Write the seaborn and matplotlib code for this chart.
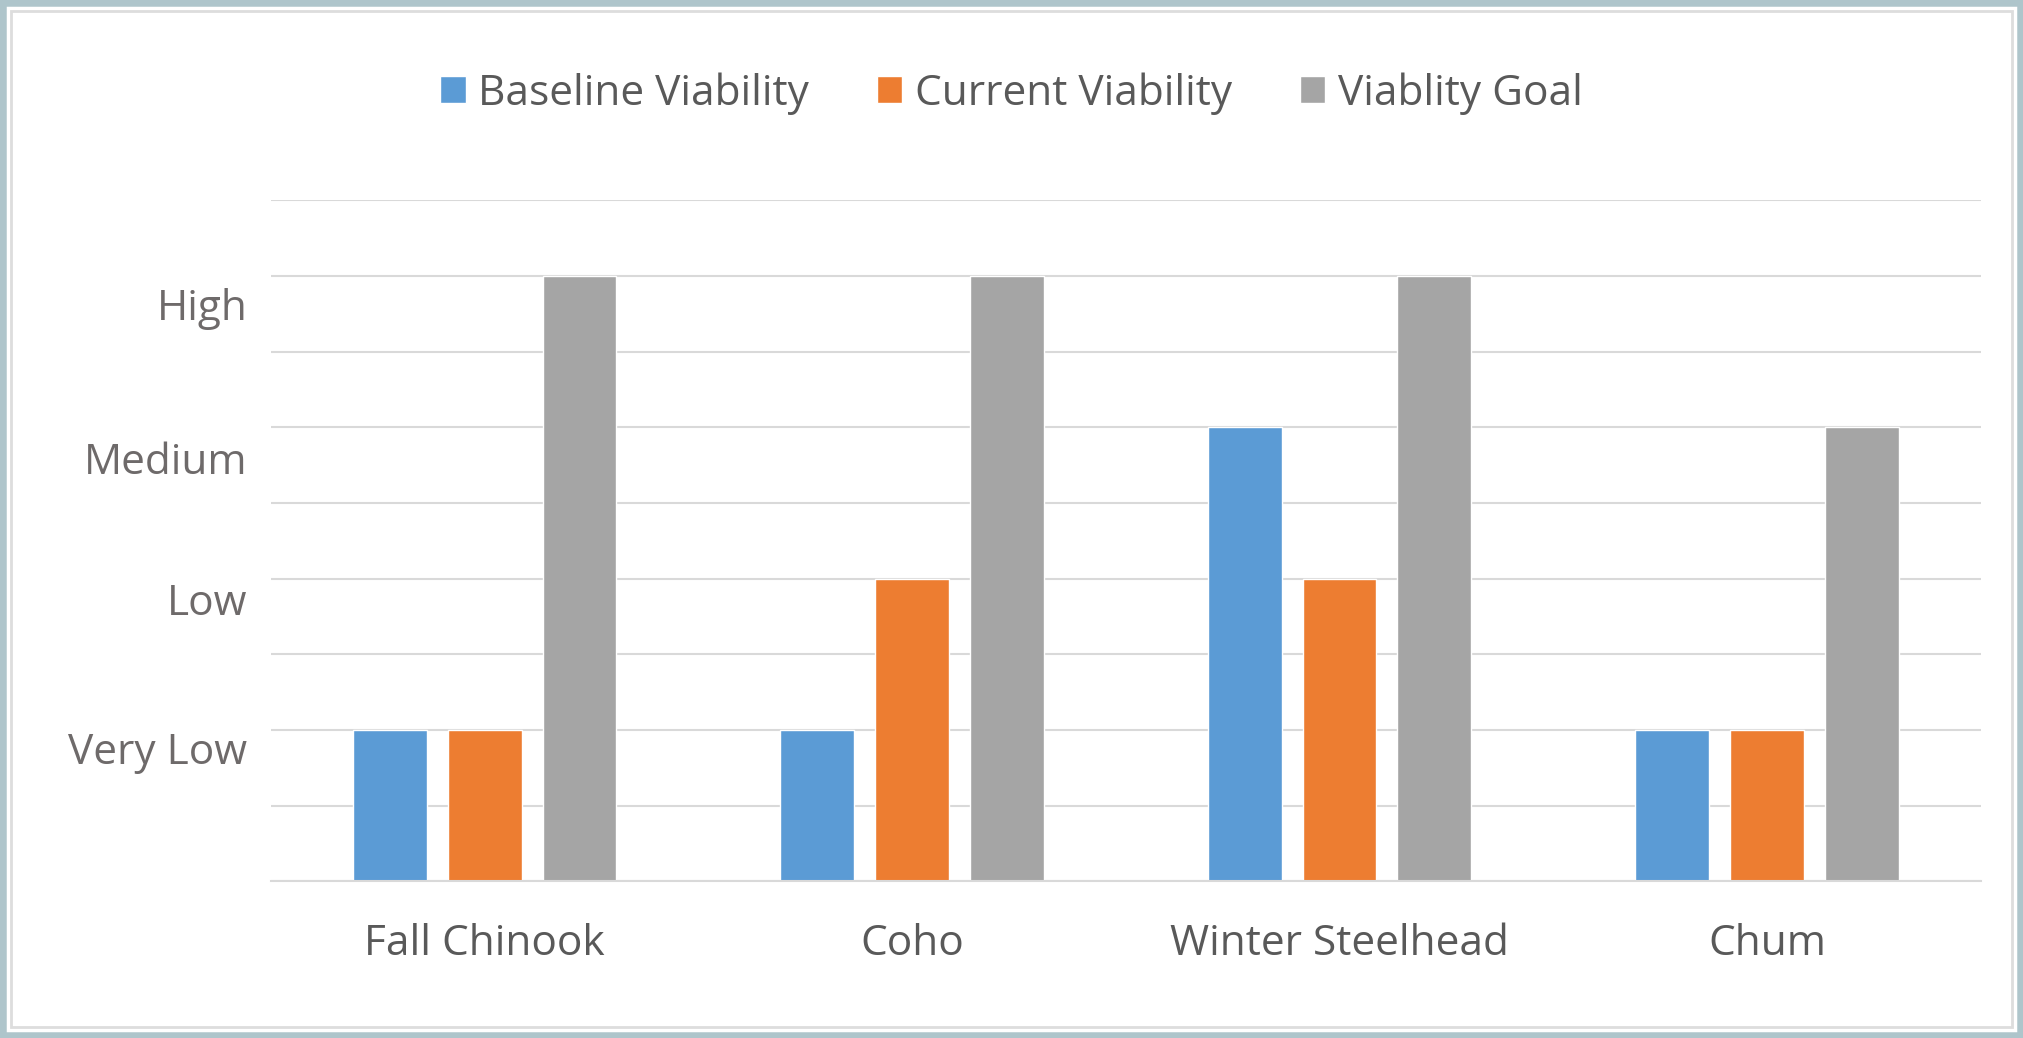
import pandas as pd
import numpy as np
import seaborn as sns
import matplotlib.pyplot as plt
from matplotlib.patches import Rectangle

# Data (1 unit = one gridline step)
species = ['Fall Chinook', 'Coho', 'Winter Steelhead', 'Chum']
baseline = [2, 2, 6, 2]
current = [2, 4, 4, 2]
goal = [8, 8, 8, 6]
series_names = ['Baseline Viability', 'Current Viability', 'Viablity Goal']
level_labels = ['Very Low', 'Low', 'Medium', 'High']
level_pos = [1.76, 3.73, 5.59, 7.63]  # labels sit a bit under their gridline

df = pd.DataFrame({
    'species': species * 3,
    'value': baseline + current + goal,
    'series': np.repeat(series_names, len(species)),
})

sns.set_theme(style='white')
plt.rcParams['font.family'] = ['Open Sans', 'DejaVu Sans']
text_color = '#595959'
colors = ['#5B9BD5', '#ED7D31', '#A5A5A5']

fig = plt.figure(figsize=(20.23, 10.38), dpi=100)
ax = fig.add_axes([0.134, 0.151, 0.845, 0.656])

sns.barplot(data=df, x='species', y='value', hue='series', palette=colors,
            width=0.665, gap=0.22, saturation=1, ax=ax, legend=True)

# gridlines at every unit, labels placed separately
ax.set_ylim(0, 9)
ax.set_xlim(-0.5, 3.5)
ax.set_yticks(range(0, 10), minor=True)
ax.set_yticks(level_pos)
ax.set_yticklabels(level_labels)
ax.grid(axis='y', which='minor', color='#D9D9D9', linewidth=1.5)
ax.grid(axis='y', which='major', visible=False)
ax.set_axisbelow(True)
ax.tick_params(axis='y', which='both', length=0, pad=17, labelsize=30.5, labelcolor='#6E6A6A')
ax.tick_params(axis='x', length=0, pad=30, labelsize=30.5, labelcolor=text_color)
for side in ['top', 'right', 'left']:
    ax.spines[side].set_visible(False)
ax.spines['bottom'].set_color('#D9D9D9')
ax.spines['bottom'].set_linewidth(1.5)
ax.set_xlabel('')
ax.set_ylabel('')

handles, labels = ax.get_legend_handles_labels()
ax.legend(handles, labels, loc='center', bbox_to_anchor=(0.5, 0.91),
          bbox_transform=fig.transFigure, ncol=3, frameon=False,
          fontsize=30.5, labelcolor=text_color, handlelength=0.6, handleheight=0.6,
          handletextpad=0.3, columnspacing=1.6)

# outer frame of the chart
fig.patches.append(Rectangle((0, 0), 1, 1, transform=fig.transFigure, fill=False,
                             edgecolor='#AEC5CB', linewidth=9, zorder=10))
fig.patches.append(Rectangle((0.0055, 0.0105), 0.989, 0.979, transform=fig.transFigure,
                             fill=False, edgecolor='#DDDDDD', linewidth=2, zorder=10))

fig.savefig('out.png', dpi=100)
